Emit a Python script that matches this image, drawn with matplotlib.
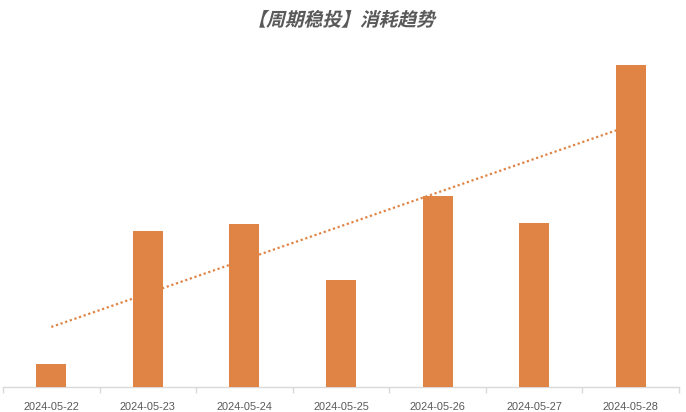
import numpy as np
import matplotlib
matplotlib.use("Agg")
import matplotlib.pyplot as plt
from matplotlib.textpath import TextPath
from matplotlib.patches import PathPatch
from matplotlib.font_manager import FontProperties
from matplotlib.transforms import Affine2D

# data (arbitrary units, axis hidden)
dates = ["2024-05-22", "2024-05-23", "2024-05-24", "2024-05-25",
         "2024-05-26", "2024-05-27", "2024-05-28"]
spend = [23, 156, 163, 107, 191, 164, 322]
title = "【周期稳投】消耗趋势"

bar_color = "#E08446"
grey = "#595959"

fig = plt.figure(figsize=(6.86, 4.12), dpi=100)
ax = fig.add_axes([3 / 686, 25 / 412, 676 / 686, 342 / 412])

x = np.arange(len(dates))
ax.bar(x, spend, width=0.31, color=bar_color, zorder=3)

# linear trend line, drawn behind the bars
k, b = np.polyfit(x, spend, 1)
ax.plot(x[[0, -1]], k * x[[0, -1]] + b, linestyle=(0, (1, 1.2)),
        color=bar_color, linewidth=1.6, zorder=2)

ax.set_xlim(-0.5, len(dates) - 0.5)
ax.set_ylim(0, 342)

for s in ["top", "right", "left"]:
    ax.spines[s].set_visible(False)
ax.spines["bottom"].set_color("#D9D9D9")
ax.spines["bottom"].set_linewidth(1.0)
ax.set_yticks([])

ax.set_xticks(x)
ax.set_xticklabels(dates, fontsize=7.9, color=grey, family="Liberation Sans")
ax.tick_params(axis="x", which="major", length=0, pad=11)
ax.set_xticks(np.arange(-0.5, len(dates)), minor=True)
ax.tick_params(axis="x", which="minor", length=4, color="#D9D9D9", width=1)

# bold italic title: skew the glyph outlines since CJK fonts have no italic
fp = FontProperties(family="Noto Sans CJK SC", weight="bold")
tp = TextPath((0, 0), title, size=13.5, prop=fp)
bb = tp.get_extents()
cx, base_y = 347 / 100, (412 - 26) / 100
tr = (Affine2D().translate(-(bb.x0 + bb.x1) / 2, 0).skew_deg(14, 0)
      .scale(1 / 72).translate(cx, base_y) + fig.dpi_scale_trans)
fig.patches.append(PathPatch(tp, transform=tr, facecolor=grey,
                             edgecolor="none", figure=fig))

fig.savefig("out.png", dpi=100)
